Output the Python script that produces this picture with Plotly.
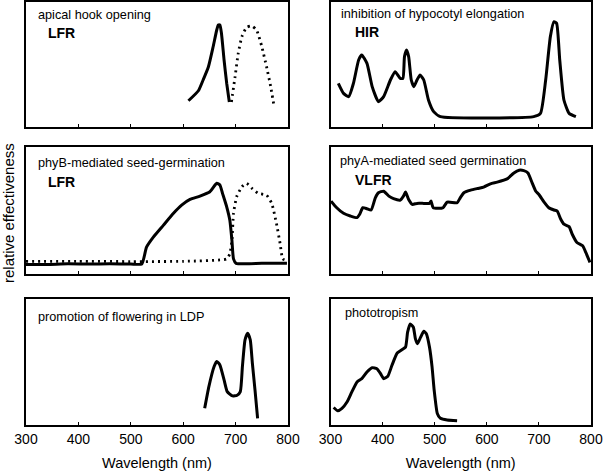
import plotly.graph_objects as go

# Panel 1: apical hook opening (LFR)
hook_red_x = [610, 629, 638, 648, 657, 664, 667, 670, 673, 678, 683, 688]
hook_red_y = [0.21, 0.29, 0.376, 0.48, 0.64, 0.776, 0.816, 0.816, 0.75, 0.536, 0.35, 0.2]
hook_fr_x = [692, 699, 705, 712, 721, 731, 740, 750, 759, 767, 773]
hook_fr_y = [0.2, 0.403, 0.589, 0.723, 0.797, 0.808, 0.776, 0.643, 0.483, 0.323, 0.176]

# Panel 2: inhibition of hypocotyl elongation (HIR)
hir_x = [315, 325, 335, 344, 354, 360, 370, 380, 392, 402, 415, 424, 434, 439, 442, 446,
         450, 455, 460, 466, 472, 479, 488, 498, 511, 690, 703, 713, 722, 729, 734, 740,
         748, 758, 771]
hir_y = [0.349, 0.269, 0.243, 0.349, 0.536, 0.576, 0.509, 0.323, 0.203, 0.243, 0.376,
         0.443, 0.389, 0.389, 0.563, 0.616, 0.563, 0.376, 0.323, 0.376, 0.416, 0.376,
         0.216, 0.123, 0.083, 0.083, 0.109, 0.376, 0.723, 0.843, 0.829, 0.536, 0.216,
         0.109, 0.083]

# Panel 3: phyB-mediated seed germination (LFR)
phyb_red_x = [300, 340, 380, 420, 460, 500, 521, 530, 543, 562, 581, 597, 613, 632, 651,
              664, 670, 675, 683, 689, 693, 696, 701, 750, 798]
phyb_red_y = [0.075, 0.075, 0.08, 0.078, 0.08, 0.079, 0.079, 0.211, 0.29, 0.383, 0.476,
              0.542, 0.587, 0.613, 0.648, 0.714, 0.701, 0.635, 0.529, 0.423, 0.264,
              0.119, 0.084, 0.084, 0.084]
phyb_fr_x = [300, 400, 500, 600, 683, 689, 693, 696, 702, 712, 721, 731, 743, 759, 769,
             778, 785, 790, 798]
phyb_fr_y = [0.1, 0.1, 0.098, 0.1, 0.119, 0.159, 0.264, 0.476, 0.608, 0.687, 0.714,
             0.675, 0.635, 0.621, 0.556, 0.397, 0.238, 0.119, 0.106]

# Panel 4: phyA-mediated seed germination (VLFR)
phya_x = [301, 312, 325, 338, 351, 356, 362, 370, 378, 386, 392, 402, 412, 421, 434, 440,
          444, 450, 457, 466, 479, 490, 493, 497, 506, 516, 524, 543, 549, 556, 569, 582,
          594, 607, 620, 639, 652, 662, 671, 679, 687, 694, 700, 710, 719, 729, 735, 742,
          748, 758, 764, 773, 784, 790, 798]
phya_y = [0.574, 0.522, 0.478, 0.457, 0.444, 0.47, 0.522, 0.514, 0.504, 0.6, 0.64, 0.652,
          0.613, 0.593, 0.582, 0.613, 0.645, 0.587, 0.548, 0.556, 0.556, 0.556, 0.574,
          0.522, 0.517, 0.522, 0.566, 0.561, 0.6, 0.64, 0.66, 0.673, 0.684, 0.71, 0.723,
          0.749, 0.796, 0.817, 0.814, 0.796, 0.718, 0.652, 0.626, 0.566, 0.522, 0.504,
          0.496, 0.431, 0.392, 0.373, 0.313, 0.248, 0.222, 0.17, 0.092]

# Panel 5: promotion of flowering in LDP
ldp_x = [641, 649, 659, 664, 670, 678, 684, 694, 703, 709, 713, 718, 723, 728, 732, 737, 742]
ldp_y = [0.133, 0.305, 0.464, 0.504, 0.477, 0.358, 0.265, 0.231, 0.236, 0.265, 0.464,
         0.676, 0.729, 0.676, 0.49, 0.278, 0.053]

# Panel 6: phototropism
photo_x = [306, 314, 322, 332, 341, 351, 360, 370, 380, 389, 396, 402, 410, 418, 428, 437,
           444, 448, 453, 459, 463, 467, 473, 479, 484, 490, 495, 499, 505, 511, 524, 543]
photo_y = [0.139, 0.113, 0.132, 0.184, 0.263, 0.342, 0.368, 0.421, 0.455, 0.447, 0.408,
           0.368, 0.387, 0.474, 0.571, 0.597, 0.618, 0.737, 0.802, 0.776, 0.684, 0.645,
           0.697, 0.744, 0.724, 0.618, 0.46, 0.276, 0.092, 0.053, 0.039, 0.034]

panel_titles = ["apical hook opening", "inhibition of hypocotyl elongation",
                "phyB-mediated seed-germination", "phyA-mediated seed germination",
                "promotion of flowering in LDP", "phototropism"]
panel_tags = ["LFR", "HIR", "LFR", "VLFR", "", ""]
tick_vals = [300, 400, 500, 600, 700, 800]

W, H = 605, 471
fig = go.Figure()

solid = dict(color="black", width=3)
dotted = dict(color="black", width=2.8, dash="2px,4px")

series = [
    (1, hook_red_x, hook_red_y, solid),
    (1, hook_fr_x, hook_fr_y, dotted),
    (2, hir_x, hir_y, solid),
    (3, phyb_fr_x, phyb_fr_y, dotted),
    (3, phyb_red_x, phyb_red_y, solid),
    (4, phya_x, phya_y, solid),
    (5, ldp_x, ldp_y, solid),
    (6, photo_x, photo_y, solid),
]
for k, xs, ys, ln in series:
    sfx = "" if k == 1 else str(k)
    fig.add_trace(go.Scatter(x=xs, y=ys, mode="lines", line=dict(**ln, shape="spline", smoothing=0.5),
                             xaxis="x" + sfx, yaxis="y" + sfx, showlegend=False, hoverinfo="skip"))

col_dom = [[26 / W, 288 / W], [330.5 / W, 591 / W]]
row_px = [(2, 127), (147, 274), (299, 425)]
row_dom = [[(H - b) / H, (H - t) / H] for t, b in row_px]

layout = dict(template="none", width=W, height=H, margin=dict(l=0, r=0, t=0, b=0, autoexpand=False),
              paper_bgcolor="white", plot_bgcolor="white",
              font=dict(family="Liberation Sans, Arial, sans-serif", color="black"))
for k in range(1, 7):
    r = (k - 1) // 2
    c = (k - 1) % 2
    sfx = "" if k == 1 else str(k)
    bottom = r == 2
    layout["xaxis" + sfx] = dict(domain=col_dom[c], range=[300, 800], anchor="y" + sfx,
                                 automargin=False,
                                 showline=True, mirror=True, linecolor="black", linewidth=1.5,
                                 showgrid=False, zeroline=False, ticks="inside", ticklen=3,
                                 tickwidth=1, tickcolor="black", tickvals=tick_vals,
                                 showticklabels=bottom, tickfont=dict(size=14),
                                 title=dict(text="Wavelength (nm)" if bottom else "",
                                            font=dict(size=14.5), standoff=12))
    layout["yaxis" + sfx] = dict(domain=row_dom[r], range=[0, 1], anchor="x" + sfx,
                                 automargin=False,
                                 showline=True, mirror=True, linecolor="black", linewidth=1.5,
                                 showgrid=False, zeroline=False, showticklabels=False, ticks="")
fig.update_layout(**layout)

title_pos = [(36, 15), (339, 14), (36, 163), (338, 161), (36, 317), (343, 313)]
tag_pos = [(46, 33), (353, 32), (46, 182), (353, 180), None, None]
for i in range(6):
    x, y = title_pos[i]
    fig.add_annotation(x=x / W, y=(H - y) / H, xref="paper", yref="paper", text=panel_titles[i],
                       showarrow=False, xanchor="left", yanchor="middle", font=dict(size=12.7))
    if panel_tags[i]:
        x, y = tag_pos[i]
        fig.add_annotation(x=x / W, y=(H - y) / H, xref="paper", yref="paper",
                           text="<b>" + panel_tags[i] + "</b>", showarrow=False,
                           xanchor="left", yanchor="middle", font=dict(size=14))

fig.add_annotation(x=8 / W, y=(H - 213) / H, xref="paper", yref="paper",
                   text="relative effectiveness", textangle=-90, showarrow=False,
                   xanchor="center", yanchor="middle", font=dict(size=15))

fig.write_html("out.html", config={"displayModeBar": False},
               post_script="document.body.style.margin='0';")
